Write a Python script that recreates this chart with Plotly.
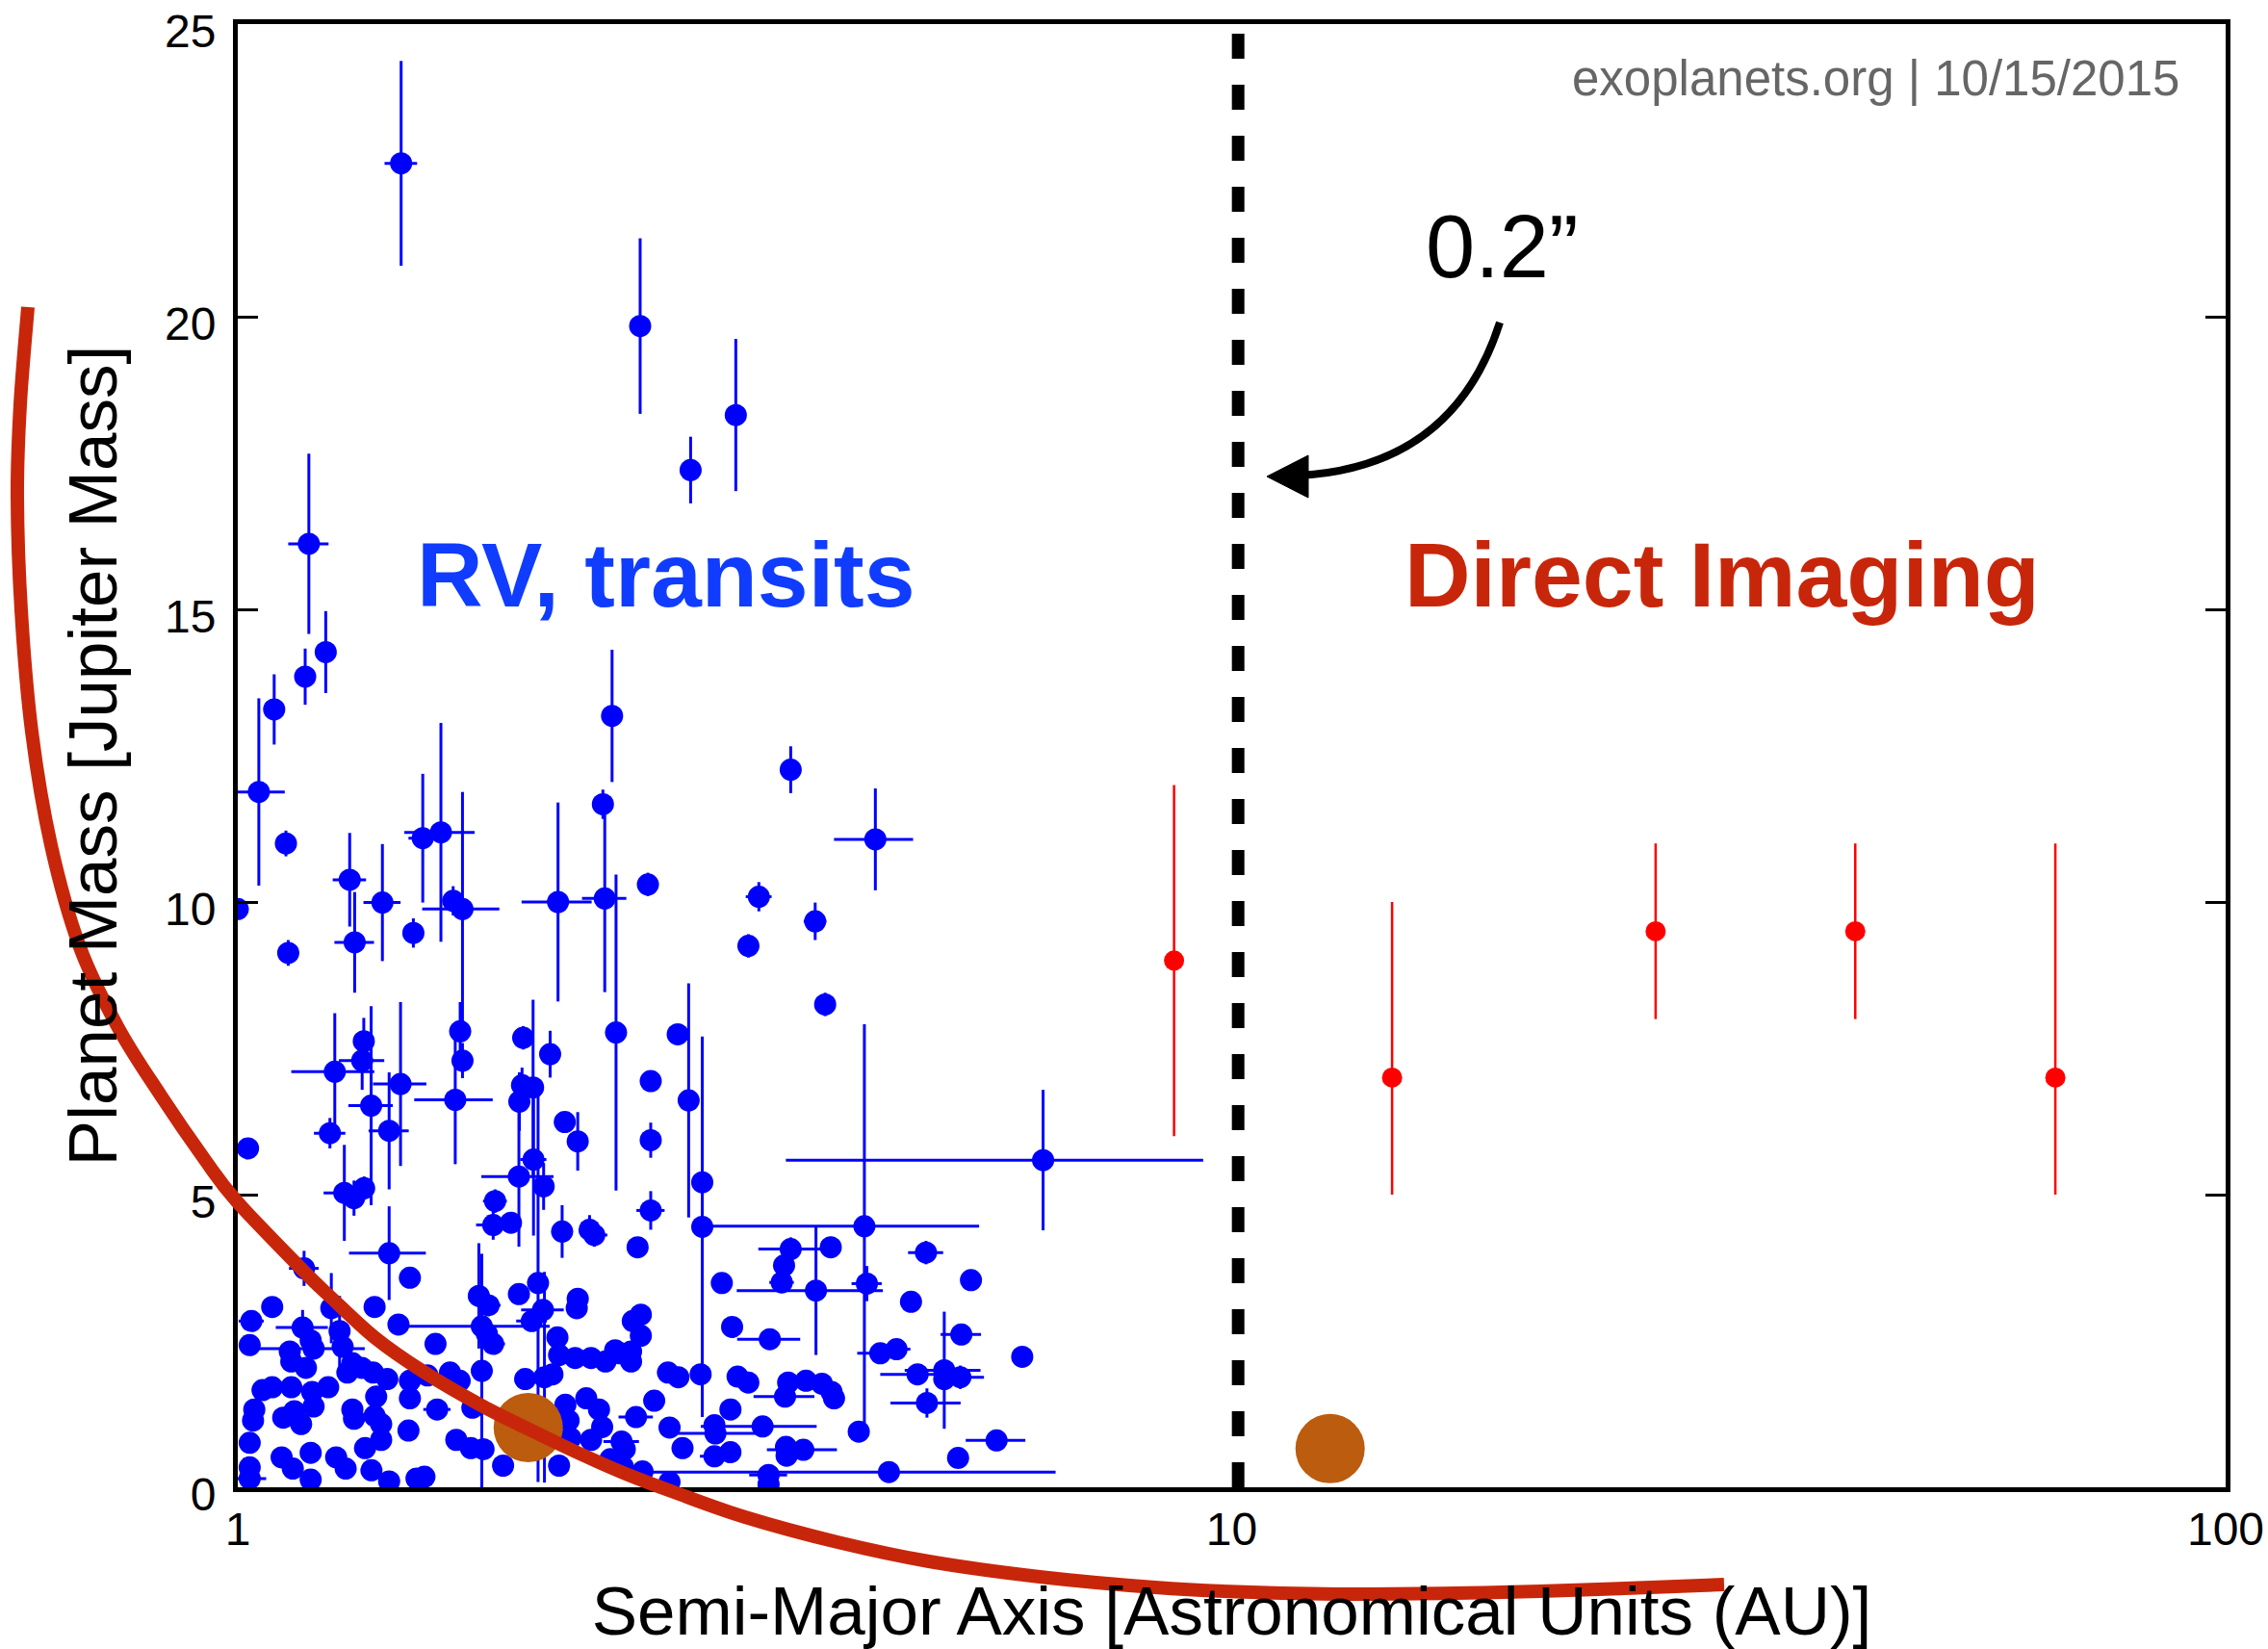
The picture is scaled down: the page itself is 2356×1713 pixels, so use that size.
import math
import plotly.graph_objects as go

# ---------------- data ----------------
# RV / transit planets: semi-major axis [AU], mass [M_Jup], symmetric errors
blue_a = [1.46, 2.54, 2.855, 3.17, 1.179, 1.226, 1.169, 1.088, 1.05, 1.118,
          1.0, 1.124, 1.296, 1.398, 1.311, 1.535, 1.601, 1.647, 1.683, 1.502,
          2.10, 2.34, 2.33, 2.38, 2.586, 3.60, 4.38, 3.344, 3.264, 3.81,
          3.899, 1.252, 1.339, 1.334, 1.458, 1.362, 1.238, 1.42, 1.28, 1.309,
          1.34, 1.42, 1.166, 1.024, 1.655, 1.674, 1.683, 1.937, 1.932, 1.982,
          1.92, 2.062, 2.133, 2.198, 1.984, 1.918, 2.031, 1.815, 1.807, 1.883,
          2.12, 2.259, 2.284, 2.402, 2.603, 2.603, 2.603, 2.771, 2.842, 2.933,
          2.933, 4.27, 6.46, 2.525, 3.60, 3.95, 3.817, 3.545, 3.526, 4.295,
          4.925, 5.466, 4.757, 3.069, 2.544, 2.497, 2.544, 2.487, 2.487, 2.424,
          3.143, 3.43, 5.345, 4.43, 4.6, 2.709, 2.775, 2.922, 3.183, 3.263,
          3.579, 3.73, 3.87, 3.957, 3.98, 3.553, 4.83, 5.138, 5.333, 5.138,
          4.936, 2.624, 3.131, 2.516, 2.719, 3.017, 3.024, 3.373, 4.215, 2.802,
          2.433, 2.451, 3.017, 3.131, 3.561, 3.566, 3.707, 5.305, 5.8, 2.554,
          4.52, 2.719, 3.42, 3.42, 6.155, 1.49, 1.083, 1.032, 1.028, 1.162,
          1.184, 1.192, 1.128, 1.132, 1.171, 1.266, 1.275, 1.242, 1.373, 1.451,
          1.304, 1.289, 1.333, 1.368, 1.414, 1.49, 1.49, 1.378, 1.059, 1.083,
          1.132, 1.188, 1.233, 1.192, 1.039, 1.036, 1.111, 1.14, 1.158, 1.304,
          1.309, 1.373, 1.394, 1.394, 1.343, 1.485, 1.028, 1.028, 1.028, 1.107,
          1.136, 1.184, 1.184, 1.256, 1.284, 1.363, 1.42, 1.513, 1.748, 1.918,
          2.005, 2.198, 1.788, 2.028, 2.193, 1.976, 1.76, 1.781, 1.807, 1.581,
          2.097, 2.105, 2.185, 2.267, 2.344, 2.397, 1.76, 1.946, 2.035, 2.073,
          1.635, 1.672, 1.552, 1.587, 1.722, 1.659, 1.716, 1.767, 1.849, 2.105,
          2.136, 2.152, 2.242, 2.309, 2.326, 2.267, 2.161, 2.371, 1.541, 2.44]
blue_mass = [22.62, 19.84, 17.38, 18.32, 16.12, 14.27, 13.85, 13.29, 11.88, 11.0,
             9.88, 9.13, 10.38, 9.99, 9.31, 11.09, 11.19, 10.02, 9.88, 9.47,
             10.0, 10.06, 11.67, 13.18, 10.3, 12.26, 11.07, 10.09, 9.25, 9.67,
             8.25, 7.1, 7.62, 7.29, 6.89, 6.52, 6.05, 6.09, 5.03, 4.94,
             5.11, 4.0, 3.74, 5.79, 6.62, 7.79, 7.29, 7.68, 6.87, 6.83,
             6.59, 7.4, 6.24, 5.91, 5.6, 5.31, 5.14, 4.89, 4.48, 4.52,
             4.37, 4.4, 4.31, 7.77, 6.94, 5.93, 4.73, 7.74, 6.61, 5.21,
             4.45, 4.46, 5.59, 4.1, 4.07, 4.10, 3.36, 3.79, 3.5, 3.48,
             4.01, 3.54, 3.17, 3.49, 2.95, 2.84, 2.59, 2.32, 2.15, 2.29,
             2.74, 2.53, 2.61, 2.29, 2.36, 1.96, 1.88, 1.93, 1.89, 1.79,
             1.79, 1.82, 1.77, 1.63, 1.52, 1.55, 1.93, 2.0, 1.88, 1.85,
             1.44, 1.48, 1.33, 1.2, 1.02, 1.06, 0.92, 1.04, 0.95, 0.67,
             0.78, 0.65, 0.53, 0.6, 0.69, 0.54, 0.64, 0.5, 0.8, 0.27,
             0.26, 0.09, 0.21, 0.05, 2.23, 3.58, 3.08, 2.84, 2.43, 2.73,
             2.51, 2.37, 2.32, 2.15, 2.04, 2.67, 2.4, 3.06, 3.08, 2.78,
             2.12, 1.96, 2.04, 1.96, 1.85, 1.82, 1.52, 1.55, 1.66, 1.71,
             1.71, 1.63, 1.71, 1.38, 1.33, 1.14, 1.19, 1.3, 1.08, 1.33,
             1.17, 1.22, 1.08, 0.81, 0.67, 0.97, 0.76, 0.34, 0.15, 0.51,
             0.32, 0.59, 0.13, 0.51, 0.32, 0.29, 0.1, 0.15, 3.27, 3.3,
             3.49, 3.22, 3.11, 3.03, 3.06, 2.84, 2.75, 2.62, 2.45, 2.45,
             2.56, 2.26, 2.21, 2.21, 2.15, 2.34, 1.99, 1.85, 1.88, 1.93,
             1.96, 1.82, 1.91, 1.33, 1.36, 0.81, 0.67, 0.65, 0.37, 0.37,
             1.41, 1.14, 1.52, 1.33, 1.03, 0.81, 0.84, 0.48, 0.18, 0.35]
blue_a_err = [0.055, 0, 0, 0, 0.055, 0, 0, 0, 0.065, 0,
              0, 0, 0.05, 0.06, 0.06, 0.05, 0.13, 0.03, 0.15, 0,
              0.17, 0.12, 0, 0, 0, 0, 0.4, 0.1, 0, 0.1,
              0, 0.12, 0, 0.07, 0.09, 0.07, 0.045, 0.066, 0.06, 0,
              0, 0.126, 0.04, 0, 0.15, 0, 0, 0, 0, 0,
              0, 0, 0, 0, 0.06, 0.16, 0, 0.05, 0.07, 0,
              0.05, 0, 0.07, 0, 0, 0, 0.085, 0, 0, 0,
              0, 1.3, 2.9, 0, 0.26, 0, 0.64, 0, 0.1, 0.15,
              0.2, 0, 0, 0, 0, 0, 0, 0, 0, 0,
              0, 0.25, 0.25, 0.23, 0.15, 0, 0, 0, 0, 0,
              0, 0, 0, 0, 0, 0.25, 0.4, 0.45, 0.3, 0,
              0.4, 0, 0, 0.1, 0, 0, 0.3, 0.45, 0, 0,
              0.1, 0, 0.1, 0, 0, 0, 0.3, 0, 0.4, 0,
              2.13, 0, 0.15, 0, 0, 0, 0, 0.03, 0, 0.07,
              0, 0.15, 0, 0, 0, 0, 0, 0, 0, 0,
              0, 0, 0, 0, 0, 0, 0.03, 0, 0, 0,
              0, 0, 0, 0, 0, 0, 0, 0, 0, 0,
              0, 0, 0.03, 0, 0.03, 0, 0, 0, 0.04, 0,
              0, 0, 0, 0, 0, 0, 0, 0, 0, 0,
              0, 0, 0.05, 0.1, 0, 0.07, 0.3, 0, 0.05, 0,
              0, 0, 0, 0, 0, 0, 0, 0, 0, 0.05,
              0, 0, 0, 0.05, 0, 0, 0, 0, 0, 0,
              0, 0, 0, 0, 0, 0.05, 0, 0, 0, 0]
blue_mass_err = [1.75, 1.5, 0.57, 1.3, 1.54, 0.7, 0.48, 0.6, 1.6, 0.22,
                 0, 0.22, 0.8, 1.0, 0.86, 1.1, 1.87, 0.25, 2.0, 0.25,
                 1.7, 1.6, 0.25, 1.13, 0.2, 0.4, 0.87, 0.25, 0.2, 0.32,
                 0.2, 1.0, 0.4, 0.5, 1.4, 1.7, 0.26, 1.0, 0.82, 0.3,
                 0.2, 0.8, 0.3, 0.17, 1.1, 0.5, 0.3, 0.2, 0.3, 1.5,
                 0.5, 0.4, 0.15, 0.5, 1.3, 1.2, 0.4, 0.2, 0.25, 0,
                 0.45, 0.25, 0.2, 2.7, 0.15, 0.3, 0.33, 0.15, 2.0, 0.2,
                 3.25, 3.45, 1.2, 0, 0.2, 0.18, 1.1, 0, 0, 0.3,
                 0.2, 0, 0, 0.1, 0.15, 0, 0, 0, 0, 0,
                 0, 0, 0, 0, 0.16, 0, 0, 0, 0, 0,
                 0.15, 0, 0, 0, 0, 0, 0, 1.0, 0.2, 0,
                 0.25, 0, 0, 0, 0, 0, 0, 0, 0, 0,
                 0, 0, 0, 0, 0, 0, 0, 0, 0, 0,
                 0, 0, 0, 0, 0, 0, 0, 0, 0, 0.3,
                 0, 0, 0, 0, 0, 0.6, 0, 0.6, 0, 0,
                 0, 0, 0, 0, 0, 0, 0, 0, 0, 0,
                 0, 0, 0, 0, 0, 0, 0, 0, 0, 0,
                 0, 0, 0, 0, 0, 0, 0, 0, 0, 0,
                 0, 0, 0, 0, 0, 0, 0, 0, 0.9, 0,
                 3.4, 0, 0, 0, 0, 0, 0, 0, 0, 0,
                 0, 0, 0, 0, 0, 0, 2.0, 0, 1.8, 0,
                 0, 0, 0, 0, 0, 0, 0, 0, 0, 0,
                 0, 0, 0, 0, 0, 0, 0, 0, 0, 0]

# Directly imaged planets
red_a = [8.75, 14.5, 26.7, 42.4, 67.4]
red_mass = [9.0, 7.0, 9.5, 9.5, 7.0]
red_err_plus = [3.0, 3.0, 1.5, 1.5, 4.0]
red_err_minus = [3.0, 2.0, 1.5, 1.5, 2.0]

# Highlighted (orange) planets
solar_a = [1.96, 12.56]
solar_mass = [1.02, 0.66]

# angular-separation boundary (0.2")
boundary_au = 10.15

x_ticks = [1, 10, 100]
x_tick_text = ["1", "10", "100"]
y_ticks = [0, 5, 10, 15, 20, 25]

# ---------------- layout geometry ----------------
W, H = 2356, 1713
ML, MR, MT, MB = 247, 44, 25, 168
PW = W - ML - MR
PH = H - MT - MB
X_RANGE = [0, 2]   # log10 range
Y_RANGE = [0, 25]


def to_paper(px, py):
    """pixel position on the page -> paper coordinates"""
    return (px - ML) / PW, (H - MB - py) / PH


# hand-drawn overlay curve (page pixels)
curve_px = [(29, 319), (21, 420), (18, 515), (22, 634), (33, 760), (53, 878),
            (83, 984), (123, 1068), (167, 1138), (213, 1205), (246, 1248),
            (315, 1320), (343, 1347), (390, 1390), (440, 1425), (500, 1460),
            (550, 1485), (600, 1509), (650, 1531), (700, 1550), (774, 1576),
            (870, 1602), (965, 1622), (1080, 1638), (1200, 1649), (1300, 1654),
            (1424, 1656), (1600, 1653), (1791, 1646)]


def smooth_path(pts):
    P = [to_paper(*p) for p in pts]
    d = "M %.5f,%.5f" % P[0]
    n = len(P)
    for i in range(n - 1):
        p0 = P[i - 1] if i > 0 else P[i]
        p1 = P[i]
        p2 = P[i + 1]
        p3 = P[i + 2] if i + 2 < n else P[i + 1]
        c1 = (p1[0] + (p2[0] - p0[0]) / 6, p1[1] + (p2[1] - p0[1]) / 6)
        c2 = (p2[0] - (p3[0] - p1[0]) / 6, p2[1] - (p3[1] - p1[1]) / 6)
        d += " C %.5f,%.5f %.5f,%.5f %.5f,%.5f" % (c1 + c2 + p2)
    return d


fig = go.Figure()

fig.add_trace(go.Scatter(
    x=blue_a, y=blue_mass, mode="markers",
    marker=dict(color="#0000ff", size=23, line=dict(width=0)),
    error_x=dict(type="data", array=blue_a_err, color="#0000ff", thickness=3, width=0),
    error_y=dict(type="data", array=blue_mass_err, color="#0000ff", thickness=3, width=0),
    name="RV, transits"))

fig.add_trace(go.Scatter(
    x=red_a, y=red_mass, mode="markers",
    marker=dict(color="#ff0000", size=21, line=dict(width=0)),
    error_y=dict(type="data", symmetric=False, array=red_err_plus,
                 arrayminus=red_err_minus, color="#ff0000", thickness=2.5, width=0),
    name="Direct Imaging"))

fig.add_trace(go.Scatter(
    x=solar_a, y=solar_mass, mode="markers",
    marker=dict(color="#bb5c0f", size=72, line=dict(width=0)),
    name="highlight"))

shapes = []
# dashed boundary line
bx = (math.log10(boundary_au) - X_RANGE[0]) / (X_RANGE[1] - X_RANGE[0])
shapes.append(dict(type="line", xref="paper", yref="paper", x0=bx, x1=bx, y0=0, y1=1,
                   line=dict(color="black", width=13, dash="26px,27px"), layer="above"))
# curved arrow
a0 = to_paper(1558, 335)
ac = to_paper(1510, 485)
a1 = to_paper(1350, 494)
shapes.append(dict(type="path", xref="paper", yref="paper",
                   path="M %.5f,%.5f Q %.5f,%.5f %.5f,%.5f" % (a0 + ac + a1),
                   line=dict(color="black", width=8), layer="above"))
t0 = to_paper(1316, 495)
t1 = to_paper(1359, 473)
t2 = to_paper(1359, 517)
shapes.append(dict(type="path", xref="paper", yref="paper",
                   path="M %.5f,%.5f L %.5f,%.5f L %.5f,%.5f Z" % (t0 + t1 + t2),
                   fillcolor="black", line=dict(color="black", width=1), layer="above"))
# red hand-drawn curve
shapes.append(dict(type="path", xref="paper", yref="paper", path=smooth_path(curve_px),
                   line=dict(color="#c8260a", width=14), layer="above"))

FONT = "Liberation Sans, Arial, Helvetica, sans-serif"

annotations = [
    dict(text="exoplanets.org | 10/15/2015", xref="paper", yref="paper",
         x=to_paper(2266, 0)[0], y=to_paper(0, 82)[1], xanchor="right", yanchor="middle",
         showarrow=False, font=dict(family=FONT, size=51, color="#666666")),
    dict(text="0.2\u201d", xref="paper", yref="paper",
         x=to_paper(1560, 0)[0], y=to_paper(0, 256)[1], xanchor="center", yanchor="middle",
         showarrow=False, font=dict(family=FONT, size=92, color="black")),
    dict(text="<b>RV, transits</b>", xref="paper", yref="paper",
         x=to_paper(692, 0)[0], y=to_paper(0, 597)[1], xanchor="center", yanchor="middle",
         showarrow=False, font=dict(family=FONT, size=95, color="#0f3cff")),
    dict(text="<b>Direct Imaging</b>", xref="paper", yref="paper",
         x=to_paper(1789, 0)[0], y=to_paper(0, 597)[1], xanchor="center", yanchor="middle",
         showarrow=False, font=dict(family=FONT, size=95, color="#c8260a")),
]

fig.update_layout(
    width=W, height=H, margin=dict(l=ML, r=MR, t=MT, b=MB, pad=0, autoexpand=False),
    paper_bgcolor="white", plot_bgcolor="white", showlegend=False,
    shapes=shapes, annotations=annotations,
    font=dict(family=FONT, color="black"),
    xaxis=dict(type="log", range=X_RANGE, tickvals=x_ticks, ticktext=x_tick_text,
               ticks="", showgrid=False, zeroline=False, showline=True, linecolor="black",
               linewidth=5, mirror=True, tickfont=dict(family=FONT, size=48, color="black"),
               ticklabelstandoff=-3, ticklabeloverflow="allow", automargin=False,
               title=dict(text="Semi-Major Axis [Astronomical Units (AU)]",
                          font=dict(family=FONT, size=71, color="black"), standoff=36)),
    yaxis=dict(range=Y_RANGE, tickvals=y_ticks, ticks="inside", ticklen=21, tickwidth=3,
               tickcolor="black", showgrid=False, zeroline=False, showline=True,
               linecolor="black", linewidth=5, mirror="ticks",
               tickfont=dict(family=FONT, size=48, color="black"), ticklabelstandoff=8,
               ticklabelshift=7, ticklabeloverflow="allow", automargin=False,
               title=dict(text="Planet Mass [Jupiter Mass]",
                          font=dict(family=FONT, size=71, color="black"), standoff=28)),
)

fig.write_html("out.html", config={"displayModeBar": False},
               post_script="document.body.style.margin='0';"
                           "document.body.style.overflow='hidden';")
